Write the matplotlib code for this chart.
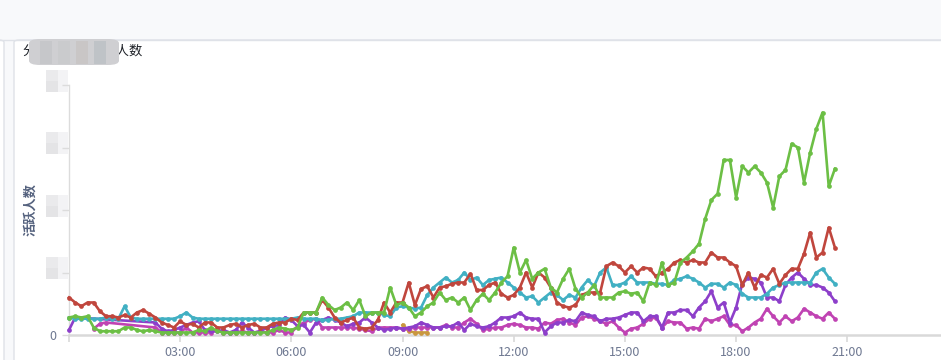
import numpy as np
import matplotlib
matplotlib.use('Agg')
import matplotlib.pyplot as plt
from matplotlib.patches import FancyBboxPatch, Rectangle

plt.rcParams['font.family'] = ['Noto Sans CJK SC', 'DejaVu Sans']

# 10-minute samples from 00:00 to 20:40 (125 points), None = no data
green = [14, 15, 14, 15, 6, 3, 3, 3, 3, 6, 6, 4, 3, 4, 3,
         2, 2, 2, 2, 2, 2, 4, 3,
         6, 3, 2, 2, 2, 2, 2, 2, 2, 2, 4, 6, 5, 4, 6,
         18, 18, 18, 30, 24, 20, 22, 26, 20, 28, 15, 18, 18, 18, 38, 24, 26, 22, 15, 18,
         23, 26, 34, 28, 30, 26, 30, 20, 28, 33, 28, 34, 42, 47, 70, 50, 60, 45, 50, 53,
         38, 34, 45, 53, 37, 30, 34, 40, 30, 30, 30,
         34, 35, 33, 34, 27, 42, 40, 58, 40, 42, 58, 62, 67, 73, 93, 108, 113, 140, 140, 110,
         135, 130, 135, 130, 122, 102, 127, 132, 153, 150, 122, 146, 165, 178, 119, 133]

red = [30, 26, 23, 26, 26, 19, 15, 15, 14, 16, 14, 18, 20, 17, 14, 10, 8, 6, 11, 8,
       9, 6, 10, 10, 6, 6, 8, 9, 6, 8, 9, 6, 6, 9, 10, 10, 13, 12,
       18, 18, 18, 28, 22, 14, 10, 12, 14, 6, 5, 6, 12, 26, 18, 26, 26, 42, 24, 37,
       39, 30, 38, 39, 41, 42, 42, 49, 36, 36, 40, 42, 33, 30, 32, 38, 50, 38, 50, 46,
       38, 26, 23, 22, 24, 32, 34, 34,
       34, 55, 58, 55, 50, 55, 50, 54, 53, 47, 50, 53, 58, 60, 58, 60, 58, 58, 66, 62,
       62, 58, 55, 40, 50, 38, 48, 46, 53, 41, 48, 53, 53, 65, 82, 62, 66, 86, 70]

cyan = [14, 13, 13, 13, 13, 13, 14, 13, 13, 23, 14, 13, 13, 13, 13, 13, 13, 13, 15, 18,
        14, 13, 13, 13, 13, 13, 13, 13, 13, 13, 13, 13, 13, 13, 13, 13, 13, 14,
        13, 13, 13, 12, 12, 13, 13, 14, 15, 18, 18, 18, 18, 16, 15, 22, 23, 22, 21, 22,
        32, 38, 42, 46, 42, 44, 50, 44, 46, 40, 44, 45, 46, 42, 38, 34, 30, 31, 26, 30,
        34, 32, 28, 32, 30, 38, 44, 39,
        50, 54, 40, 40, 42, 47, 42, 42, 42, 41, 41, 40, 44, 45, 47, 45, 42, 38, 41, 41,
        38, 42, 40, 33, 30, 30, 30, 33, 38, 40, 42, 42, 42, 42, 42, 50, 53, 46, 41]

purple = [4, 14] + [None] * 12 + [
          10, 5, 3, 4, 6, 8, 10, 11, 4, 3, 3, 4, 2, 4, 10, 6, 2, 3, 6, 7, 8, 14, 12, 7,
          8, 2, 10, 12, 14, 12, 10, 7, 9, 10, 14, 10, 6, 4, 5, 6, 5, 6, 7, 10,
          8, 6, 6, 7, 7, 10, 4, 9, 7, 6, 7, 10, 14, 14, 15, 18, 14, 13, 13, 2,
          7, 10, 10, 12, 11, 18, 16, 15,
          11, 13, 13, 14, 16, 18, 18, 11, 15, 15, 6, 18, 18, 20, 20, 15, 22, 27, 35, 22,
          26, 10, 22, 41, 46, 45, 42, 30, 30, 27, 40, 46, 50, 45, 40, 40, 38, 34, 27]

magenta = [None] * 4 + [5, 9, 10] + [None] * 7 + [
           6, 2, 2, 2, 2, 6, 2, 2, 2,
           2, 4, 2, 2, 2, 3, 2, 2, 3, 2, 2, 4, 2, 2, 7,
           10, 12, 13, 6, 6, 6, 6, 6, 6, 5, 4, 3, 6, 6, 6, 6, 5, 5, 6, 6,
           6, 6, 6, 8, 6, 6, 10, 13, 9, 4, 5, 6, 6, 8, 9, 8, 6, 6, 5, 10,
           9, 12, 13, 10, 8, 14, 15, 13,
           11, 9, 11, 6, 2, 5, 6, 9, 13, 14, 6, 11, 10, 10, 5, 6, 5, 13, 11, 13,
           15, 8, 8, 3, 6, 10, 13, 21, 15, 10, 15, 11, 14, 21, 18, 15, 13, 18, 13]

orange = [None] * 54 + [8, 3, 2, 2, 2] + [None] * 66

series = [
    ('orange', orange, '#c9973f'),
    ('magenta', magenta, '#c043b3'),
    ('purple', purple, '#8d3fca'),
    ('cyan', cyan, '#41b0c3'),
    ('red', red, '#c0463d'),
    ('green', green, '#6cbf45'),
]

hours = np.arange(125) * 10 / 60.0
xticks = [3, 6, 9, 12, 15, 18, 21]
xlabels = ['03:00', '06:00', '09:00', '12:00', '15:00', '18:00', '21:00']
yticks = [0, 50, 100, 150, 200]

W, H = 941, 360
fig = plt.figure(figsize=(W / 100, H / 100), dpi=100, facecolor='#f8f9fb')


def box(x0, y0, x1, y1, **kw):
    # pixel coords measured from the top-left corner
    return Rectangle((x0 / W, 1 - y1 / H), (x1 - x0) / W, (y1 - y0) / H,
                     transform=fig.transFigure, **kw)


# panels
fig.patches.append(FancyBboxPatch((14 / W, -20 / H), 960 / W, (320 + 20) / H,
                                  boxstyle='round,pad=0,rounding_size=0.006',
                                  transform=fig.transFigure, facecolor='white',
                                  edgecolor='#dfe2e8', linewidth=1, zorder=-2))
fig.patches.append(FancyBboxPatch((-20 / W, -20 / H), 24 / W, (320 + 20) / H,
                                  boxstyle='round,pad=0,rounding_size=0.006',
                                  transform=fig.transFigure, facecolor='white',
                                  edgecolor='#dfe2e8', linewidth=1, zorder=-2))
fig.lines.append(plt.Line2D([0, 1], [1 - 39.5 / H] * 2, transform=fig.transFigure,
                            color='#dfe2e8', linewidth=1, zorder=-1))

ax = fig.add_axes([69 / W, 25 / H, (W - 69) / W, 250 / H])
ax.set_facecolor('none')
ax.set_zorder(2)

for name, vals, color in series:
    x = [h for h, v in zip(hours, vals) if v is not None]
    y = [v for v in vals if v is not None]
    ax.plot(x, y, color=color, linewidth=1.9, marker='o', markersize=3.4,
            markeredgewidth=0, solid_joinstyle='round', zorder=3, clip_on=False)

ax.set_xlim(0, (W - 69) / 37.06)
ax.set_ylim(0, 200)
ax.set_xticks(xticks)
ax.set_xticklabels(xlabels)
ax.set_yticks(yticks)
ax.set_yticklabels(['0', '', '', '', ''])
for s in ['top', 'right']:
    ax.spines[s].set_visible(False)
ax.spines['left'].set_color('#dcdcdc')
ax.spines['bottom'].set_color('#d9d9d9')
ax.spines['bottom'].set_linewidth(1.8)
ax.spines['left'].set_linewidth(1.0)
ax.tick_params(axis='x', colors='#d9d9d9', labelcolor='#6e7891', length=5,
               width=1.2, labelsize=9, pad=3)
ax.tick_params(axis='y', colors='#dcdcdc', labelcolor='#6e7891', length=5,
               width=1.0, labelsize=9, pad=4)
ax.set_xticks([0], minor=True)
ax.tick_params(axis='x', which='minor', length=5, width=1.2, colors='#d9d9d9')

# blurred y tick labels
for ty in [273, 211, 148, 86]:
    fig.patches.append(box(46, ty - 16, 58, ty - 5, facecolor='#eaeaec', edgecolor='none'))
    fig.patches.append(box(46, ty - 5, 58, ty + 6, facecolor='#e4e4e6', edgecolor='none'))
    fig.patches.append(box(58, ty - 16, 68, ty + 6, facecolor='#f3f3f5', edgecolor='none'))

# title with blurred middle part
fig.text(22 / W, 1 - 52 / H, '分时段活跃用户人数', fontsize=9.6, color='#1f2329',
         va='center', ha='left')
fig.patches.append(FancyBboxPatch((29 / W, 1 - 65 / H), 90 / W, 26 / H,
                                  boxstyle='round,pad=0,rounding_size=0.012',
                                  transform=fig.transFigure, facecolor='#cfcfd2',
                                  edgecolor='none', zorder=5))
for bx, c in [(40, '#c6c7ca'), (58, '#cacbcd'), (76, '#c9c6c6'), (94, '#bfc3c7')]:
    fig.patches.append(box(bx, 41, bx + 12, 64, facecolor=c, edgecolor='none', zorder=6))

fig.text(30 / W, 1 - 210 / H, '活跃人数', rotation=90, fontsize=9.5, color='#55627e',
         va='center', ha='center', fontweight='bold')

fig.savefig('out.png', dpi=100, facecolor=fig.get_facecolor())
